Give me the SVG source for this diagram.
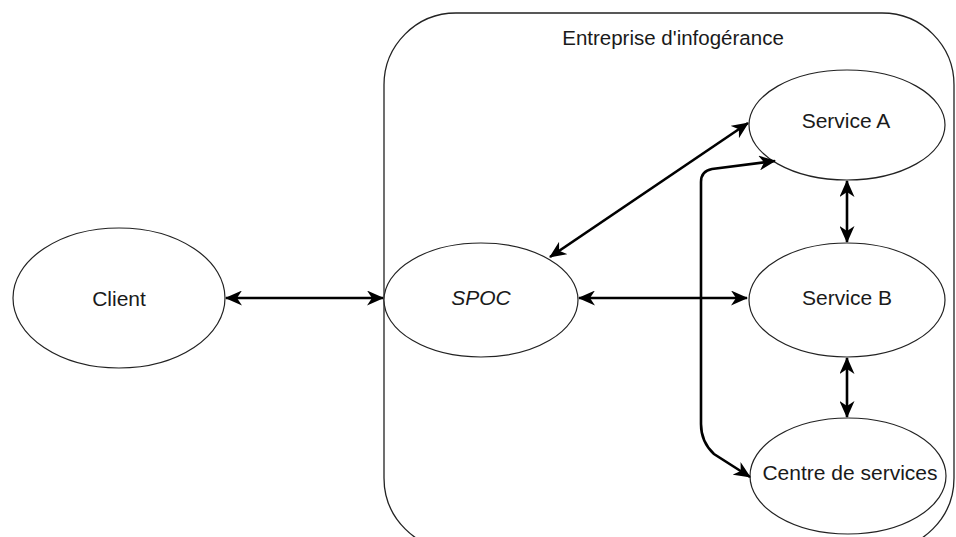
<svg xmlns="http://www.w3.org/2000/svg" width="956" height="537" viewBox="0 0 956 537">
<style>
.node{fill:#fff;stroke:#222;stroke-width:1.2}
.lbl{font-family:"Liberation Sans",Arial,sans-serif;font-size:21px;fill:#1a1a1a;text-anchor:middle}
.edge{fill:none;stroke:#000;stroke-width:2.6;marker-start:url(#arr);marker-end:url(#arr)}
</style>
<defs>
<marker id="arr" markerUnits="userSpaceOnUse" viewBox="0 0 17 15" refX="16" refY="7.5" markerWidth="17" markerHeight="15" orient="auto-start-reverse">
<path d="M17,7.5 L0,0 L5,7.5 L0,15 Z" fill="#000"/>
</marker>
</defs>
<rect width="956" height="537" fill="#fff"/>
<g id="container">
<rect x="384" y="13" width="570" height="537" rx="72" ry="72" fill="none" stroke="#222" stroke-width="1.3"/>
<text class="lbl" x="673" y="45" style="font-size:20.5px">Entreprise d'infogérance</text>
</g>
<g id="client">
<ellipse class="node" cx="119" cy="298" rx="106" ry="70"/>
<text class="lbl" x="119" y="306">Client</text>
</g>
<g id="spoc">
<ellipse class="node" cx="481" cy="300" rx="97" ry="57"/>
<text class="lbl" x="481" y="305" font-style="italic">SPOC</text>
</g>
<g id="serviceA">
<ellipse class="node" cx="847" cy="125" rx="98" ry="55"/>
<text class="lbl" x="846" y="128">Service A</text>
</g>
<g id="serviceB">
<ellipse class="node" cx="847" cy="300" rx="98" ry="57"/>
<text class="lbl" x="847" y="305">Service B</text>
</g>
<g id="centre">
<ellipse class="node" cx="848" cy="476" rx="98" ry="58"/>
<text class="lbl" x="850" y="480">Centre de services</text>
</g>
<g id="connectors">
<path class="edge" d="M226,298 L383,298"/>
<path class="edge" d="M579,298 L747,298"/>
<path class="edge" d="M550,257 L748,123"/>
<path class="edge" d="M775,161 L712,169 Q701,171 701,182 L701,424 Q701,442 714,454 L750,477"/>
<path class="edge" d="M847,181 L847,242"/>
<path class="edge" d="M847,358 L847,417"/>
</g>
</svg>
